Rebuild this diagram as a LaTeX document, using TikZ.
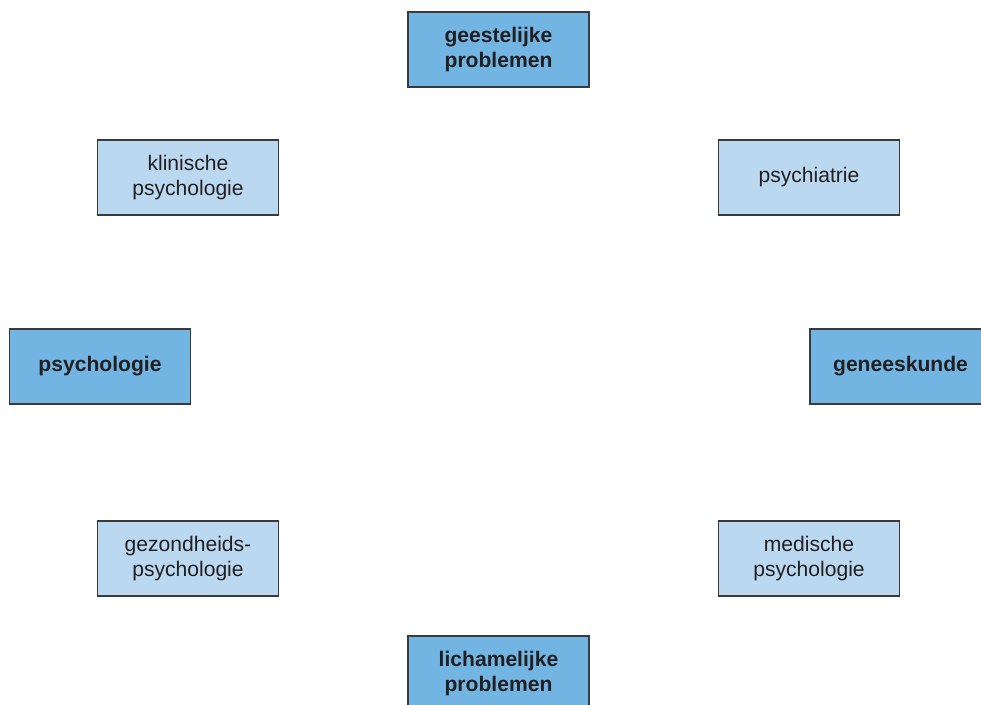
\documentclass[tikz,border=0pt]{standalone}
\usepackage{fontspec}
\setmainfont{Liberation Sans}
\definecolor{darkbox}{HTML}{72B4E2}
\definecolor{lightbox}{HTML}{BAD9F1}
\definecolor{boxtext}{HTML}{231F20}
\definecolor{boxline}{HTML}{3A3A3A}

\begin{document}
\begin{tikzpicture}[x=0.02cm, y=-0.02cm,
  field/.style={draw=boxline, line width=0.8pt, text=boxtext, align=center,
    minimum width=3.62cm, minimum height=1.5cm, inner sep=0pt,
    font=\fontsize{12}{14.2}\selectfont},
  mainfield/.style={field, fill=darkbox, font=\fontsize{12}{14.2}\selectfont\bfseries},
  subfield/.style={field, fill=lightbox}]
\useasboundingbox (0,0) rectangle (981,705);
\clip (0,0) rectangle (981,705);

\node (geest) at (498.5,49.5) [mainfield]{geestelijke\\problemen};
\node (klin) at (188,177.5) [subfield]{klinische\\psychologie};
\node (psychiatrie) at (809,177.5) [subfield]{psychiatrie};

\node (psych) at (100,366.5) [mainfield]{psychologie};
\node (genees) at (900.5,366.5) [mainfield]{geneeskunde};

\node (gezond) at (188,558.5) [subfield]{gezondheids-\\psychologie};
\node (medisch) at (809,558.5) [subfield]{medische\\psychologie};
\node (licham) at (498.5,673.5) [mainfield]{lichamelijke\\problemen};

\end{tikzpicture}
\end{document}
